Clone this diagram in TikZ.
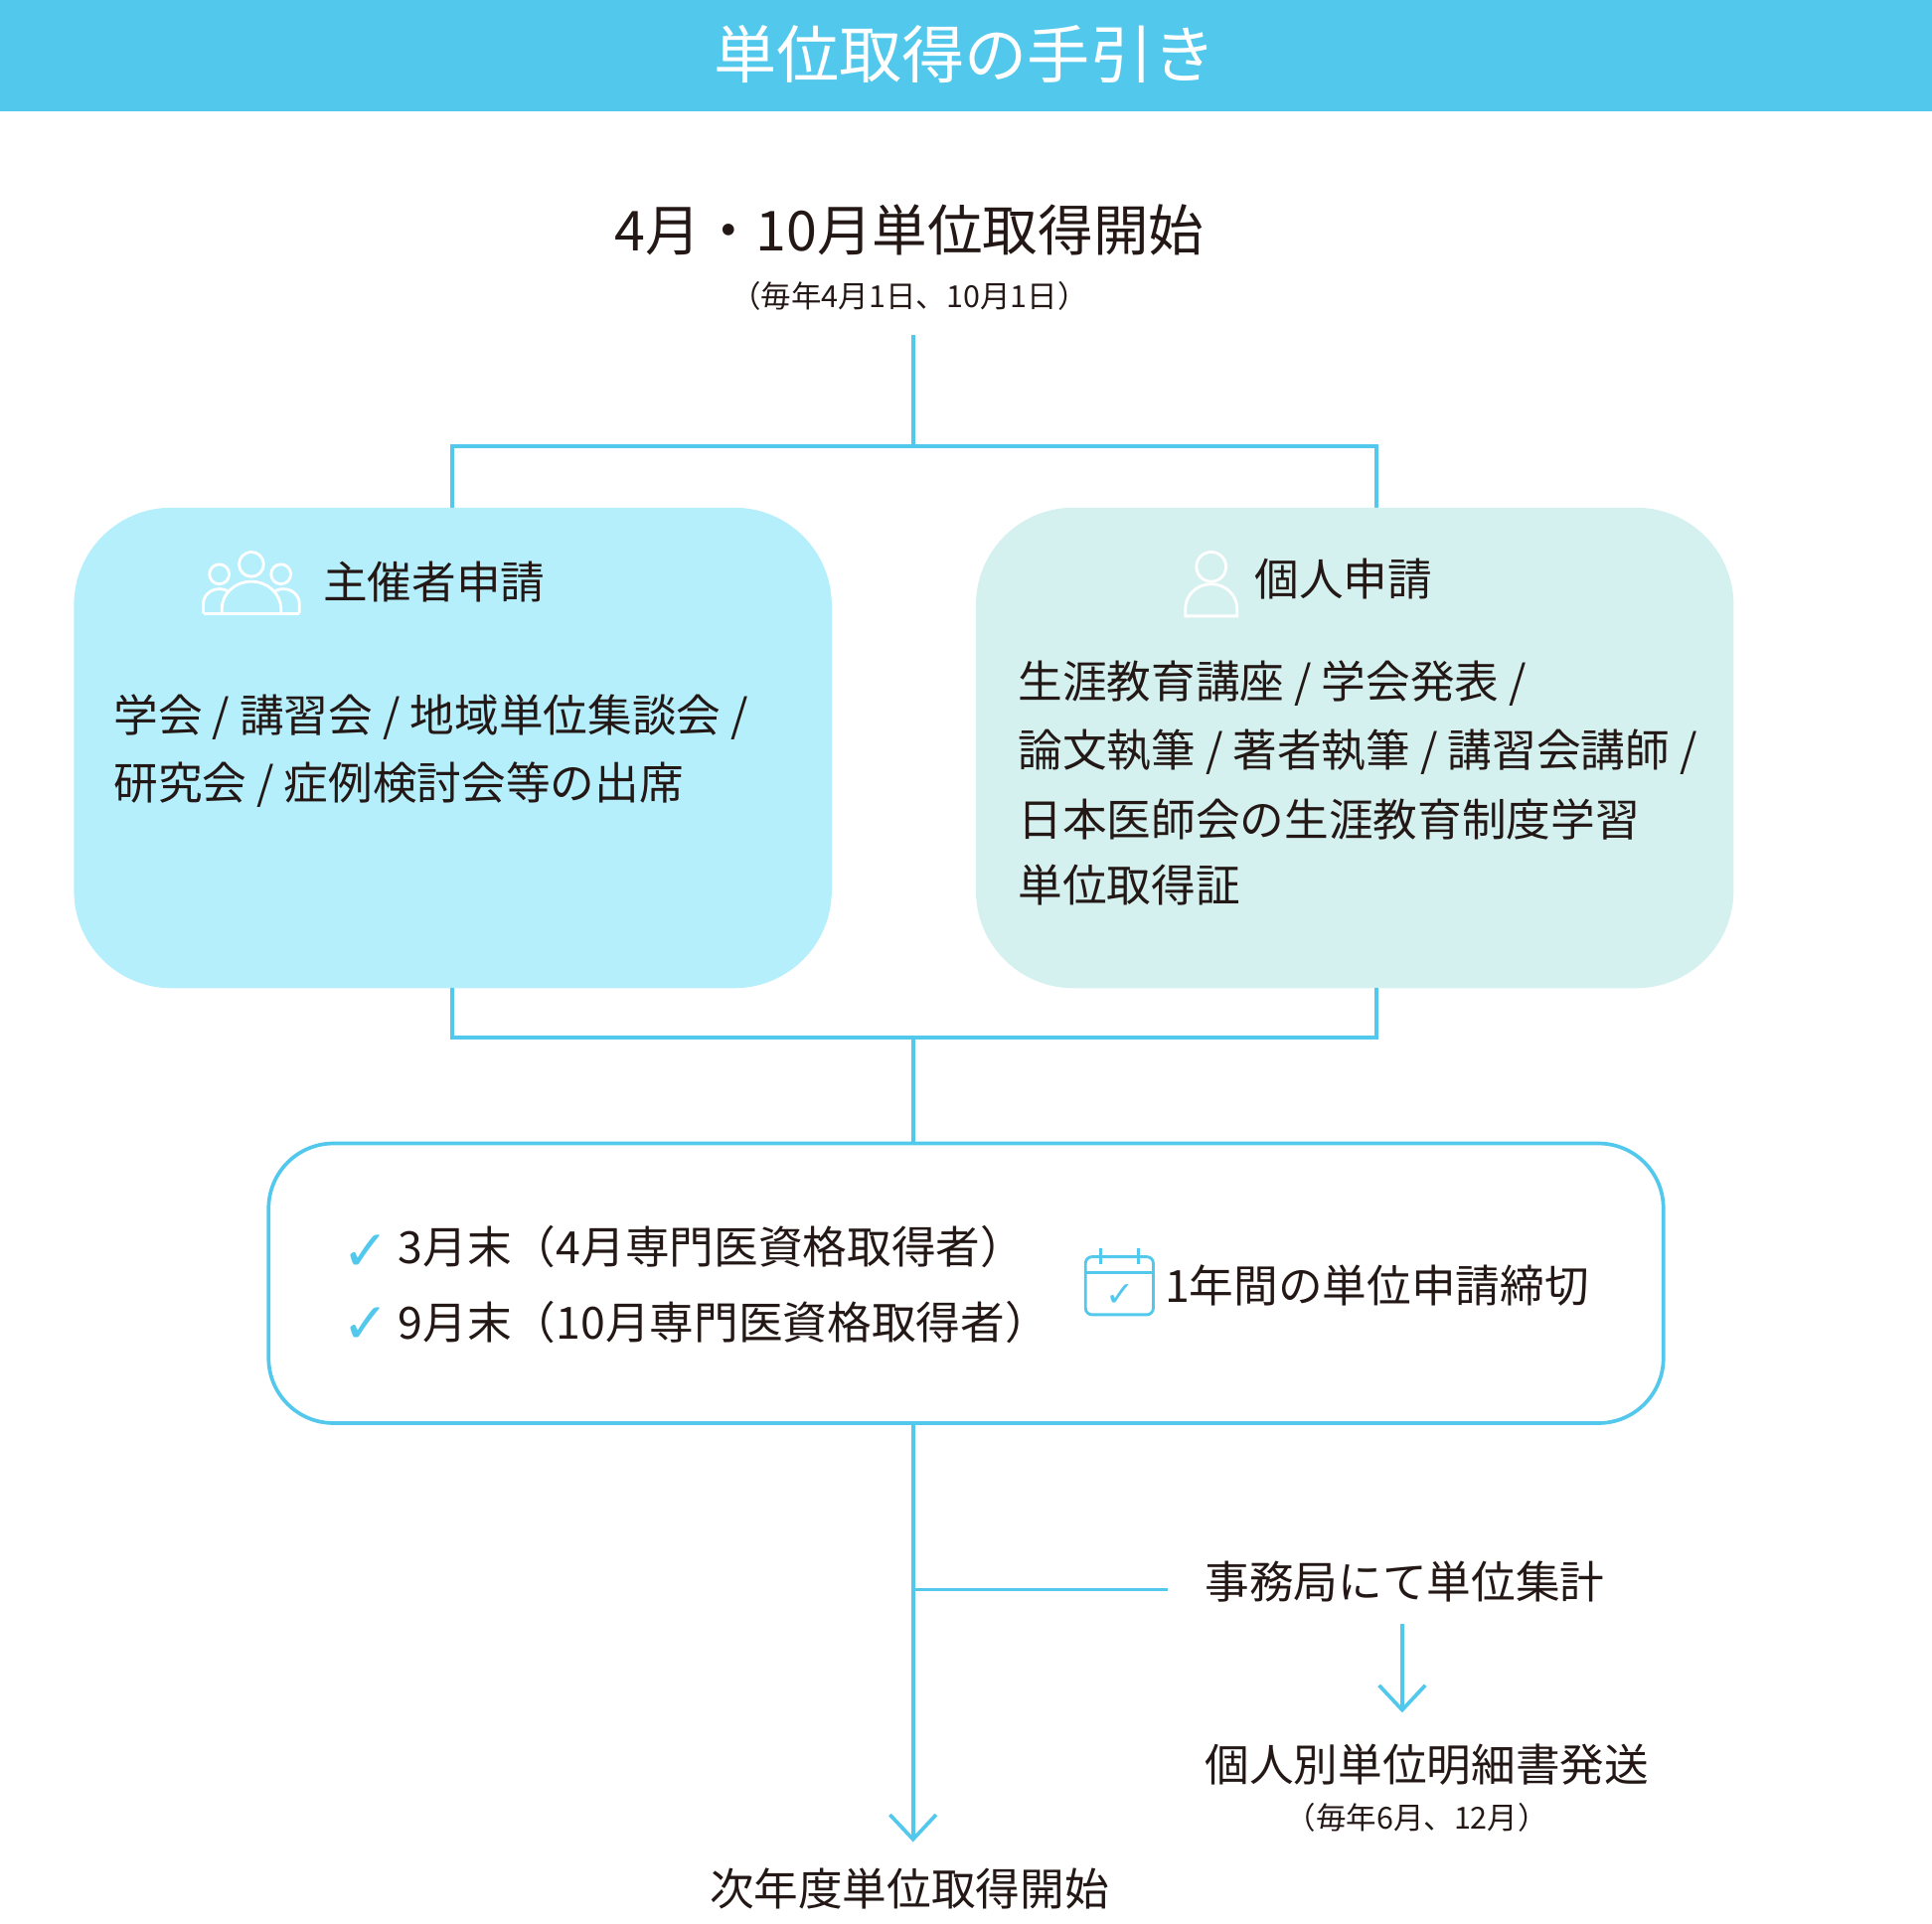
\documentclass[tikz,border=0pt]{standalone}
\usepackage{fontspec}
\setmainfont{Noto Sans CJK JP}
\newfontfamily\symfont{DejaVu Sans}
\usetikzlibrary{arrows.meta, positioning}
\definecolor{band}{HTML}{52C8EC}
\definecolor{ink}{HTML}{231815}
\definecolor{boxA}{HTML}{B5EFFC}
\definecolor{boxB}{HTML}{D5F1EF}

\begin{document}
\begin{tikzpicture}[x=0.02cm, y=-0.02cm,
    conn/.style={band, line width=1.7pt},
    txt/.style={text=ink, inner sep=0pt},
    big/.style={txt, font=\fontsize{25.5}{30}\selectfont},
    mid/.style={txt, font=\fontsize{20.5}{24}\selectfont},
    small/.style={txt, font=\fontsize{14}{16}\selectfont},
    icon/.style={white, line width=1.3pt}]
    \useasboundingbox (0,0) rectangle (1568,1561);

    % Titelband
    \fill[band] (0,0) rectangle (1568,90);
    \node[txt, text=white, font=\fontsize{29}{32}\selectfont] (title) at (783,44) {単位取得の手引き};

    % Start
    \node[big] (start) at (738,187) {4月・10月単位取得開始};
    \node[small] (startsub) at (738,240) {（毎年4月1日、10月1日）};

    % Verzweigung oben
    \coordinate (t0) at (741,272);
    \coordinate (t1) at (741,362);
    \draw[conn] (t0) -- (t1);
    \draw[conn] (367,412) -- (367,362) -- (1117,362) -- (1117,412);

    % Kasten links / rechts
    \fill[boxA, rounded corners=45] (60,412) rectangle (675,802);
    \fill[boxB, rounded corners=45] (792,412) rectangle (1407,802);

    % Icon Gruppe
    \draw[icon] (204,458) circle (10);
    \draw[icon] (178,466) circle (8);
    \draw[icon] (228,466) circle (8);
    \draw[icon] (165,498) -- (165,490) arc (180:360:13 and 12) (217,490) arc (180:360:13 and 12) -- (243,498);
    \draw[icon, fill=boxA] (180,498) -- (180,494) arc (180:360:24 and 22) -- (228,498) -- cycle;
    \draw[icon] (165,498) -- (243,498);
    \node[mid, anchor=west] (orgHead) at (262,472) {主催者申請};
    \node[mid, anchor=west] (orgL1) at (92,582) {学会 / 講習会 / 地域単位集談会 /};
    \node[mid, anchor=west] (orgL2) at (92,637) {研究会 / 症例検討会等の出席};

    % Icon Person
    \draw[icon] (983,460) circle (12);
    \draw[icon] (962,500) -- (962,494) arc (180:360:21 and 20) -- (1004,500) -- cycle;
    \node[mid, anchor=west] (indHead) at (1018,470) {個人申請};
    \node[mid, anchor=west] (indL1) at (826,555) {生涯教育講座 / 学会発表 /};
    \node[mid, anchor=west] (indL2) at (826,610) {論文執筆 / 著者執筆 / 講習会講師 /};
    \node[mid, anchor=west] (indL3) at (826,665) {日本医師会の生涯教育制度学習};
    \node[mid, anchor=west] (indL4) at (826,718) {単位取得証};

    % Zusammenführung
    \draw[conn] (367,802) -- (367,842) -- (1117,842) -- (1117,802);
    \draw[conn] (741,842) -- (741,928);

    % Fristen
    \draw[band, line width=1.7pt, rounded corners=30] (218,928) rectangle (1350,1155);
    \node[txt, text=band, font=\symfont\bfseries\fontsize{26}{28}\selectfont] (chk1) at (297,1017) {✓};
    \node[txt, text=band, font=\symfont\bfseries\fontsize{26}{28}\selectfont] (chk2) at (297,1076) {✓};
    \node[mid, anchor=west] (dl1) at (323,1012) {3月末（4月専門医資格取得者）};
    \node[mid, anchor=west] (dl2) at (323,1073) {9月末（10月専門医資格取得者）};
    % Kalender
    \draw[band, line width=1.3pt, rounded corners=3] (881,1020) rectangle (936,1067);
    \draw[band, line width=1.3pt] (881,1033) -- (936,1033);
    \draw[band, line width=1.3pt] (893,1013) -- (893,1026) (924,1013) -- (924,1026);
    \node[txt, text=band, font=\symfont\bfseries\fontsize{16}{18}\selectfont] (chk3) at (909,1051) {✓};
    \node[mid, anchor=west] (dlYear) at (945,1043) {1年間の単位申請締切};

    % Abschluss
    \coordinate (b0) at (741,1155);
    \coordinate (b1) at (741,1495);
    \draw[conn, -{Straight Barb[length=0.4cm, width=0.75cm]}] (b0) -- (b1);
    \draw[conn] (741,1290) -- (948,1290);
    \node[mid] (office) at (1140,1284) {事務局にて単位集計};
    \node[mid] (send) at (1158,1432) {個人別単位明細書発送};
    \node[small] (sendsub) at (1150,1475) {（毎年6月、12月）};
    \draw[conn, -{Straight Barb[length=0.4cm, width=0.75cm]}] (1138,1318) -- (1138,1390);
    \node[mid] (next) at (738,1533) {次年度単位取得開始};
\end{tikzpicture}
\end{document}
